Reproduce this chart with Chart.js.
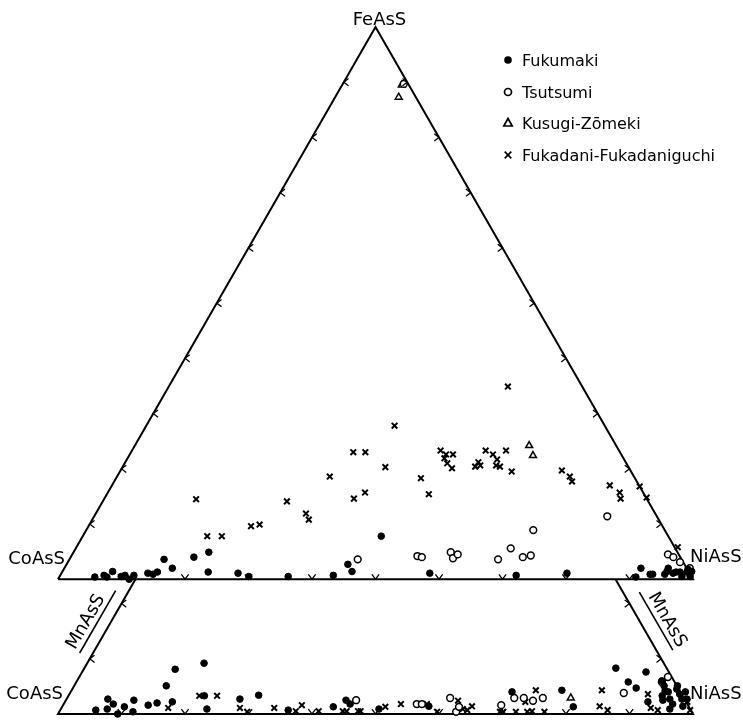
<!DOCTYPE html>
<html>
<head>
<meta charset="utf-8">
<script src="https://cdn.jsdelivr.net/npm/chart.js@4.4.1/dist/chart.umd.min.js"></script>
<style>body{margin:0;background:#fff}</style>
</head>
<body>
<canvas id="ternary" width="743" height="720"></canvas>
<script>
// upper triangle: [NiAsS, FeAsS] mol%, CoAsS is the rest
const fukumakiUpper = [[5.6,0.4],[6.9,0.7],[7.5,0.4],[7.9,1.4],[9.7,0.5],[10.2,0.7],[11.2,0],[11.6,0.7],[13.6,1.1],[14.5,0.9],[15.0,1.3],[14.9,3.6],[17.0,2.0],[19.4,4.0],[21.3,4.9],[23.0,1.3],[27.8,1.1],[29.8,0.5],[36.0,0.5],[43.0,0.7],[44.3,2.7],[45.6,1.4],[47.0,7.8],[58.0,1.1],[71.8,0.7],[79.6,1.1],[90.8,0.4],[90.8,2.0],[92.8,0.9],[93.2,0.9],[95.1,0.9],[95.2,1.4],[96.3,1.1],[96.7,1.3],[97.3,1.3],[98.0,0.5],[98.4,1.3],[98.3,1.8],[99.3,0.5],[99.1,1.4],[95.1,2.0]];
const tsutsumiUpper = [[9.6,89.7],[45.4,3.6],[54.5,4.2],[55.3,4.0],[59.4,4.9],[60.3,3.8],[60.7,4.5],[67.5,3.6],[68.5,5.6],[71.2,4.0],[72.3,4.3],[70.4,8.9],[80.8,11.4],[93.8,4.5],[94.9,4.0],[96.4,3.1],[98.5,2.0]];
const kusugiUpper = [[9.4,89.5],[10.0,87.3],[62.1,24.2],[63.6,22.4]];
const fukadaniUpper = [[14.5,14.5],[19.6,7.8],[21.9,7.8],[25.6,9.6],[26.8,9.9],[29.0,14.1],[33.1,11.9],[34.1,10.8],[33.5,18.6],[35.0,23.0],[36.9,23.0],[39.3,14.6],[40.5,15.7],[41.4,20.3],[39.1,27.8],[48.0,18.3],[50.7,15.4],[48.6,23.3],[49.8,22.6],[50.9,22.6],[49.9,21.9],[50.8,21.0],[52.0,20.1],[55.5,20.4],[55.6,21.2],[56.2,20.6],[55.7,23.3],[57.2,22.6],[58.3,21.7],[58.7,20.6],[59.4,20.4],[58.9,23.3],[53.4,34.9],[61.7,19.5],[69.5,19.7],[71.3,18.6],[72.1,17.7],[78.4,17.0],[80.6,15.7],[81.3,14.6],[83.2,16.8],[85.3,14.8],[94.7,5.8]];

// lower part: [NiAsS, MnAsS] mol%, CoAsS is the rest
const fukumakiLower = [[5.6,0.7],[7.3,0.9],[6.5,2.7],[7.8,1.8],[9.4,0],[9.8,1.3],[11.6,0.4],[10.7,2.5],[13.4,1.6],[14.6,2.0],[14.5,5.1],[16.9,2.2],[14.4,8.1],[18.4,9.2],[21.4,3.3],[23.0,0.9],[27.3,2.7],[29.9,3.4],[35.9,0.7],[42.7,1.3],[44.1,2.5],[45.1,1.8],[50.1,0.9],[57.7,1.4],[69.5,4.0],[77.2,4.3],[80.5,1.3],[83.7,8.3],[86.9,5.8],[88.7,4.7],[88.8,7.6],[91.8,2.2],[92.1,6.0],[92.9,5.1],[93.5,4.2],[93.5,3.3],[94.0,2.5],[94.1,4.0],[95.0,2.7],[95.9,1.8],[95.2,4.5],[96.1,3.6],[96.9,2.7],[95.0,5.1],[96.8,4.0],[97.7,2.7],[95.9,0.9],[97.7,1.4]];
const tsutsumiLower = [[45.7,2.5],[55.6,1.8],[56.4,1.8],[60.3,2.9],[62.5,0.4],[62.5,1.3],[69.0,1.6],[70.4,2.9],[71.9,2.9],[73.6,2.4],[74.9,2.9],[87.2,3.8],[92.7,6.7],[92.2,5.8]];
const kusugiLower = [[79.3,2.9]];
const fukadaniLower = [[16.8,1.1],[20.6,3.3],[23.4,3.3],[28.1,1.1],[29.6,0.4],[33.5,1.1],[37.2,0.5],[37.6,1.6],[40.8,0.5],[44.6,0.5],[45.2,0.5],[47.0,0.5],[47.4,0.5],[50.9,1.3],[53.1,1.8],[57.2,1.8],[59.5,0.4],[61.8,2.4],[63.3,0.9],[64.1,0.7],[64.5,1.4],[69.4,0.4],[69.9,0.4],[71.9,0.4],[72.5,2.2],[73.7,0.4],[74.4,0.5],[73.1,4.3],[76.4,0.4],[83.5,4.3],[84.6,1.4],[86.2,0.7],[91.1,3.6],[92.8,1.1],[94.1,0.7],[99.2,0.7],[98.0,2.2]];

const seriesNames = ['Fukumaki', 'Tsutsumi', 'Kusugi-Zōmeki', 'Fukadani-Fukadaniguchi'];
const tickSteps = [10, 20, 30, 40, 50, 60, 70, 80, 90];
const lowerSideTicks = [10, 20];
const MN_SHOWN = 24.4; // how much of the MnAsS triangle is drawn

const up = ([ni, fe]) => ({ x: ni + fe / 2, y: fe });
const low = ([ni, mn]) => ({ x: ni + mn / 2, y: mn - MN_SHOWN });

const styles = [
  { pointStyle: 'circle', pointRadius: 3.3, backgroundColor: '#000', borderColor: '#000', borderWidth: 1 },
  { pointStyle: 'circle', pointRadius: 3.4, backgroundColor: '#fff', borderColor: '#000', borderWidth: 1.5 },
  { pointStyle: 'triangle', pointRadius: 4, backgroundColor: '#fff', borderColor: '#000', borderWidth: 1.5 },
  { pointStyle: 'crossRot', pointRadius: 4, backgroundColor: '#000', borderColor: '#000', borderWidth: 2 }
];

function pts(i, data) {
  return Object.assign({ label: seriesNames[i], data: data, showLine: false, clip: false, order: 0 }, styles[i]);
}
function frame(data) {
  return { data: data, showLine: true, pointRadius: 0, borderColor: '#000', borderWidth: 2, clip: false, order: 5 };
}

const upperFrame = [{x:0,y:0},{x:50,y:100},{x:100,y:0},{x:0,y:0}];
const lowerFrame = [{x:MN_SHOWN/2,y:0},{x:0,y:-MN_SHOWN},{x:100,y:-MN_SHOWN},{x:100-MN_SHOWN/2,y:0}];

function chevron(ctx, px, py, ang) {
  // tip on the edge, arms pointing back
  const len = 6, spread = 0.65;
  ctx.beginPath();
  ctx.moveTo(px - len * Math.cos(ang - spread), py - len * Math.sin(ang - spread));
  ctx.lineTo(px, py);
  ctx.lineTo(px - len * Math.cos(ang + spread), py - len * Math.sin(ang + spread));
  ctx.stroke();
}

function marker(ctx, i, x, y) {
  ctx.beginPath();
  if (i === 0) { ctx.arc(x, y, 3.8, 0, Math.PI * 2); ctx.fill(); }
  else if (i === 1) { ctx.arc(x, y, 3.5, 0, Math.PI * 2); ctx.stroke(); }
  else if (i === 2) { ctx.moveTo(x, y - 4.5); ctx.lineTo(x + 4.2, y + 3); ctx.lineTo(x - 4.2, y + 3); ctx.closePath(); ctx.stroke(); }
  else { ctx.moveTo(x - 3.3, y - 3.3); ctx.lineTo(x + 3.3, y + 3.3); ctx.moveTo(x + 3.3, y - 3.3); ctx.lineTo(x - 3.3, y + 3.3); ctx.stroke(); }
}

const decor = {
  id: 'decor',
  afterDatasetsDraw(chart) {
    const ctx = chart.ctx, sx = chart.scales.x, sy = chart.scales.y;
    const P = (x, y) => [sx.getPixelForValue(x), sy.getPixelForValue(y)];
    ctx.save();
    ctx.strokeStyle = '#000';
    ctx.lineWidth = 1.3;
    tickSteps.forEach(t => {
      chevron(ctx, ...P(t / 2, t), Math.PI);
      chevron(ctx, ...P(100 - t / 2, t), 0);
      chevron(ctx, ...P(t, 0), Math.PI / 2);
      chevron(ctx, ...P(t, -MN_SHOWN), Math.PI / 2);
    });
    lowerSideTicks.forEach(t => {
      chevron(ctx, ...P(t / 2, t - MN_SHOWN), Math.PI);
      chevron(ctx, ...P(100 - t / 2, t - MN_SHOWN), 0);
    });

    // vertex labels
    ctx.fillStyle = '#000';
    ctx.font = '18px "DejaVu Sans"';
    ctx.textBaseline = 'alphabetic';
    const apex = P(50, 100), co = P(0, 0), ni = P(100, 0), coL = P(0, -MN_SHOWN), niL = P(100, -MN_SHOWN);
    ctx.textAlign = 'center';
    ctx.fillText('FeAsS', apex[0] + 4, apex[1] - 2);
    ctx.textAlign = 'right';
    ctx.fillText('CoAsS', co[0] + 7, co[1] - 15);
    ctx.fillText('CoAsS', coL[0] + 5, coL[1] - 15);
    ctx.textAlign = 'left';
    ctx.fillText('NiAsS', ni[0] - 3, ni[1] - 17);
    ctx.fillText('NiAsS', niL[0] - 3, niL[1] - 15);

    // MnAsS arrows along the lower sides
    ctx.textAlign = 'center';
    ctx.textBaseline = 'middle';
    ctx.lineWidth = 1.6;
    [[86, 622, -Math.PI / 3, -30, 42], [667, 620, Math.PI / 3, -38, 29]].forEach(([x, y, r, a, b]) => {
      ctx.save();
      ctx.translate(x, y);
      ctx.rotate(r);
      ctx.fillText('MnAsS', 0, 0);
      ctx.beginPath();
      ctx.moveTo(a, 10);
      ctx.lineTo(b, 10);
      ctx.stroke();
      ctx.restore();
    });

    // legend
    ctx.font = '16px "DejaVu Sans"';
    ctx.textAlign = 'left';
    ctx.textBaseline = 'alphabetic';
    ctx.lineWidth = 1.7;
    const rows = [60, 92, 123, 155];
    seriesNames.forEach((name, i) => {
      marker(ctx, i, 508, rows[i]);
      ctx.fillText(name, 522, rows[i] + 6);
    });
    ctx.restore();
  }
};

new Chart(document.getElementById('ternary'), {
  type: 'scatter',
  data: {
    datasets: [
      frame(upperFrame), frame(lowerFrame),
      pts(0, fukumakiUpper.map(up).concat(fukumakiLower.map(low))),
      pts(1, tsutsumiUpper.map(up).concat(tsutsumiLower.map(low))),
      pts(2, kusugiUpper.map(up).concat(kusugiLower.map(low))),
      pts(3, fukadaniUpper.map(up).concat(fukadaniLower.map(low)))
    ]
  },
  options: {
    responsive: false,
    animation: false,
    events: [],
    layout: { padding: { left: 58, right: 50, top: 27, bottom: 5 } },
    scales: {
      x: { type: 'linear', min: 0, max: 100, display: false },
      y: { type: 'linear', min: -MN_SHOWN, max: 100, display: false }
    },
    plugins: { legend: { display: false }, tooltip: { enabled: false } }
  },
  plugins: [decor]
});
</script>
</body>
</html>
